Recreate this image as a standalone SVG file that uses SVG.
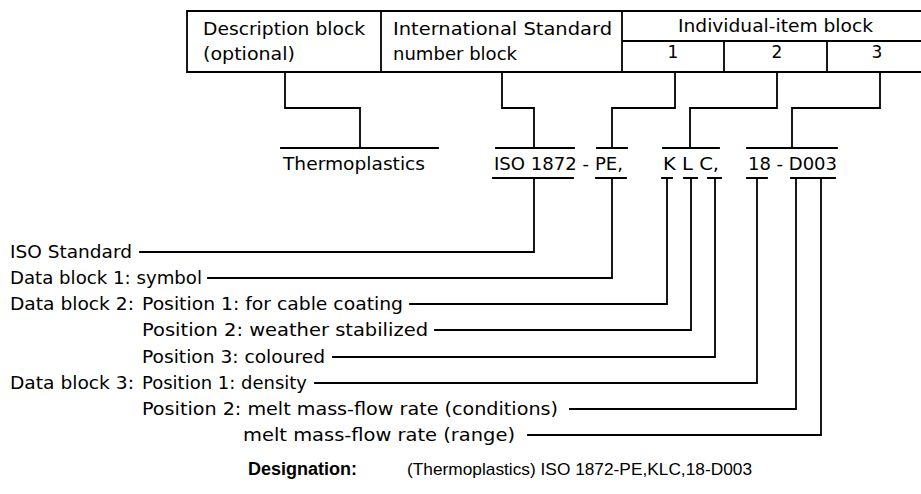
<svg xmlns="http://www.w3.org/2000/svg" width="921" height="494" viewBox="0 0 921 494">
<style>
.t{font-family:"DejaVu Sans","Liberation Sans",sans-serif;font-size:17px;fill:#000}
.c{text-anchor:middle}
.ln{fill:none;stroke:#000;stroke-width:1.8;stroke-linejoin:miter;stroke-linecap:square}
.d1{font-family:"Liberation Sans",Arial,sans-serif;font-size:18px;font-weight:bold;fill:#000}
.d2{font-family:"Liberation Sans",Arial,sans-serif;font-size:17px;fill:#000}
</style>
<rect width="921" height="494" fill="#fff"/>
<g id="table">
  <path class="ln" d="M921,11 H187 V72 H921 M381,11 V72 M622,11 V72 M622,41 H921 M724,41 V72 M827,41 V72"/>
</g>
<g id="desc-block">
  <text class="t" x="203" y="35" textLength="162" lengthAdjust="spacingAndGlyphs">Description block</text>
  <text class="t" x="203" y="60" textLength="92" lengthAdjust="spacingAndGlyphs">(optional)</text>
</g>
<g id="intl-block">
  <text class="t" x="393" y="35" textLength="219" lengthAdjust="spacingAndGlyphs">International Standard</text>
  <text class="t" x="393" y="60" textLength="124" lengthAdjust="spacingAndGlyphs">number block</text>
</g>
<g id="item-block">
  <text class="t" x="678" y="32" textLength="195" lengthAdjust="spacingAndGlyphs">Individual-item block</text>
  <text class="t c" x="673" y="58">1</text>
  <text class="t c" x="777" y="58">2</text>
  <text class="t c" x="877" y="58">3</text>
</g>
<g id="thermoplastics"><text class="t" x="283" y="170" textLength="142" lengthAdjust="spacingAndGlyphs">Thermoplastics</text></g>
<g id="iso-pe"><text class="t" x="494" y="170" textLength="129" lengthAdjust="spacingAndGlyphs">ISO 1872 - PE,</text></g>
<g id="klc"><text class="t" x="663" y="170" textLength="56" lengthAdjust="spacingAndGlyphs">K L C,</text></g>
<g id="d003"><text class="t" x="748" y="170" textLength="89" lengthAdjust="spacingAndGlyphs">18 - D003</text></g>
<g id="lbl-iso"><text class="t" x="10" y="258" textLength="122" lengthAdjust="spacingAndGlyphs">ISO Standard</text></g>
<g id="lbl-db1"><text class="t" x="10" y="284" textLength="192" lengthAdjust="spacingAndGlyphs">Data block 1: symbol</text></g>
<g id="lbl-db2"><text class="t" x="10" y="310" textLength="124" lengthAdjust="spacingAndGlyphs">Data block 2:</text><text class="t" x="142" y="310" textLength="261" lengthAdjust="spacingAndGlyphs">Position 1: for cable coating</text></g>
<g id="lbl-db2p2"><text class="t" x="142" y="336" textLength="286" lengthAdjust="spacingAndGlyphs">Position 2: weather stabilized</text></g>
<g id="lbl-db2p3"><text class="t" x="142" y="363" textLength="183" lengthAdjust="spacingAndGlyphs">Position 3: coloured</text></g>
<g id="lbl-db3"><text class="t" x="10" y="389" textLength="124" lengthAdjust="spacingAndGlyphs">Data block 3:</text><text class="t" x="142" y="389" textLength="165" lengthAdjust="spacingAndGlyphs">Position 1: density</text></g>
<g id="lbl-db3p2"><text class="t" x="142" y="415" textLength="416" lengthAdjust="spacingAndGlyphs">Position 2: melt mass-flow rate (conditions)</text></g>
<g id="lbl-db3p3"><text class="t" x="243" y="441" textLength="272" lengthAdjust="spacingAndGlyphs">melt mass-flow rate (range)</text></g>
<g id="designation">
  <text class="d1" x="248" y="475">Designation:</text>
  <text class="d2" x="407" y="475" textLength="345" lengthAdjust="spacingAndGlyphs">(Thermoplastics) ISO 1872-PE,KLC,18-D003</text>
</g>
<g id="connectors">
  <path class="ln" d="M285,72 V108 H360 V148 M281,148 H438"/>
  <path class="ln" d="M502,72 V108 H534 V148 M496,148 H574"/>
  <path class="ln" d="M675,72 V108 H612 V148 M597,148 H627"/>
  <path class="ln" d="M777,72 V108 H690 V148 M663,148 H719"/>
  <path class="ln" d="M880,72 V108 H792 V148 M747,148 H837"/>
  <path class="ln" d="M493,178 H573 M596,178 H626 M662,178 H672 M684,178 H697 M708,178 H721 M747,178 H767 M791,178 H835"/>
  <path class="ln" d="M140,252 H534 V178"/>
  <path class="ln" d="M208,278 H612 V178"/>
  <path class="ln" d="M410,304 H667 V178"/>
  <path class="ln" d="M435,330 H691 V178"/>
  <path class="ln" d="M333,357 H715 V178"/>
  <path class="ln" d="M315,383 H757 V178"/>
  <path class="ln" d="M570,409 H796 V178"/>
  <path class="ln" d="M528,435 H821 V178"/>
</g>
</svg>
